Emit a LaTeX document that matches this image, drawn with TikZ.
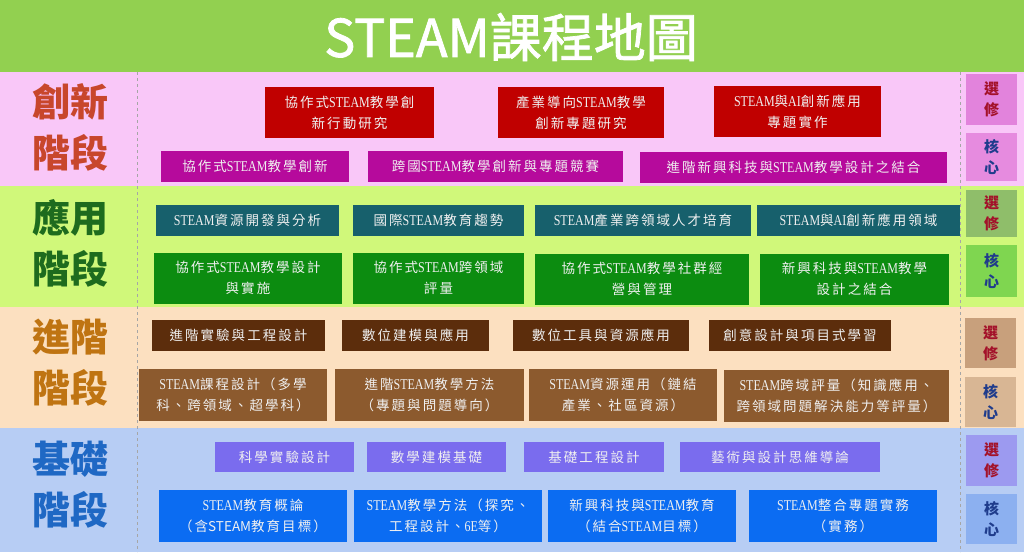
\documentclass[tikz,border=0pt]{standalone}
\usepackage{fontspec}
\setmainfont{Noto Sans CJK TC}
\newfontfamily\boxfont[LetterSpace=15]{Noto Sans CJK TC}
\newfontfamily\headfont{Noto Sans CJK TC}
\newfontfamily\titlefont[FakeBold=1.5]{Noto Sans CJK TC}
\newfontfamily\latinfont[FakeStretch=0.8]{Liberation Serif}
\newcommand\stm{{\latinfont\fontsize{15}{21}\selectfont STEAM}}

\definecolor{titlegreen}{HTML}{92D050}
\definecolor{innbg}{HTML}{F9C7F8}
\definecolor{appbg}{HTML}{D0F87A}
\definecolor{advbg}{HTML}{FCE0C0}
\definecolor{basbg}{HTML}{B7CDF4}
\definecolor{innlabel}{HTML}{C8462C}
\definecolor{applabel}{HTML}{1E6B1E}
\definecolor{advlabel}{HTML}{BF7412}
\definecolor{baslabel}{HTML}{1F68C4}
\definecolor{innred}{HTML}{C00000}
\definecolor{innmag}{HTML}{B60A9C}
\definecolor{appteal}{HTML}{17606C}
\definecolor{appgreen}{HTML}{0C8C10}
\definecolor{advdark}{HTML}{5C2D0C}
\definecolor{advmid}{HTML}{8C5A2E}
\definecolor{basslate}{HTML}{7A6CEE}
\definecolor{basblue}{HTML}{0B6CF2}
\definecolor{innsel}{HTML}{E283DC}
\definecolor{inncore}{HTML}{E68BDF}
\definecolor{appsel}{HTML}{8FBE6A}
\definecolor{appcore}{HTML}{7FD650}
\definecolor{advsel}{HTML}{C8A07C}
\definecolor{advcore}{HTML}{D8B694}
\definecolor{bassel}{HTML}{9C9AF0}
\definecolor{bascore}{HTML}{8CB0F0}
\definecolor{seltext}{HTML}{A3122A}
\definecolor{coretext}{HTML}{1F3C8C}

\tikzset{
  course/.style={rectangle, inner sep=0pt, text=white!94!black, align=center,
    font=\boxfont\fontsize{13.5}{21}\selectfont},
  innA/.style={course, fill=innred},
  innB/.style={course, fill=innmag},
  appA/.style={course, fill=appteal},
  appB/.style={course, fill=appgreen},
  advA/.style={course, fill=advdark},
  advB/.style={course, fill=advmid},
  basA/.style={course, fill=basslate},
  basB/.style={course, fill=basblue},
  stagelabel/.style={align=center, inner sep=0pt,
    font=\headfont\bfseries\fontsize{38}{51}\selectfont},
  tile/.style={rectangle, inner sep=0pt, align=center, minimum width=51,
    font=\headfont\bfseries\fontsize{15}{21}\selectfont},
  seltile/.style={tile, text=seltext},
  coretile/.style={tile, text=coretext},
  sepline/.style={gray!70, dashed, line width=0.8pt}
}

\begin{document}
\begin{tikzpicture}[x=1pt,y=-1pt]
  \useasboundingbox (0,0) rectangle (1024,552);
  % bands
  \fill[titlegreen] (0,0) rectangle (1024,72);
  \fill[innbg] (0,72) rectangle (1024,186);
  \fill[appbg] (0,186) rectangle (1024,307);
  \fill[advbg] (0,307) rectangle (1024,428);
  \fill[basbg] (0,428) rectangle (1024,552);
  \draw[sepline] (137,72) -- (137,552);
  \draw[sepline] (960,72) -- (960,552);

  \node[text=white, font=\titlefont\fontsize{52}{60}\selectfont] (title) at (511,37) {STEAM課程地圖};

  % stage labels
  \node[stagelabel, text=innlabel] (innLabel) at (70,127) {創新\\階段};
  \node[stagelabel, text=applabel] (appLabel) at (70,243.5) {應用\\階段};
  \node[stagelabel, text=advlabel] (advLabel) at (70,362.5) {進階\\階段};
  \node[stagelabel, text=baslabel] (basLabel) at (70,485) {基礎\\階段};

  % innovation stage
  \node[innA, minimum width=169, minimum height=51] (innA1) at (349.5,112.5) {協作式\stm 教學創\\新行動研究};
  \node[innA, minimum width=166, minimum height=51] (innA2) at (581,112.5) {產業導向\stm 教學\\創新專題研究};
  \node[innA, minimum width=167, minimum height=51] (innA3) at (797.5,111.5) {\stm 與{\latinfont\fontsize{15}{21}\selectfont AI}創新應用\\專題實作};
  \node[innB, minimum width=188, minimum height=31] (innB1) at (255,166.5) {協作式\stm 教學創新};
  \node[innB, minimum width=255, minimum height=31] (innB2) at (495.5,166.5) {跨國\stm 教學創新與專題競賽};
  \node[innB, minimum width=307, minimum height=31] (innB3) at (793.5,167) {進階新興科技與\stm 教學設計之結合};

  % application stage
  \node[appA, minimum width=183, minimum height=31] (appA1) at (247.5,220.5) {\stm 資源開發與分析};
  \node[appA, minimum width=171, minimum height=31] (appA2) at (438.5,220.5) {國際\stm 教育趨勢};
  \node[appA, minimum width=216, minimum height=31] (appA3) at (643,220.5) {\stm 產業跨領域人才培育};
  \node[appA, minimum width=203, minimum height=31] (appA4) at (858.5,220.5) {\stm 與{\latinfont\fontsize{15}{21}\selectfont AI}創新應用領域};
  \node[appB, minimum width=188, minimum height=51] (appB1) at (248,278) {協作式\stm 教學設計\\與實施};
  \node[appB, minimum width=171, minimum height=51] (appB2) at (438.5,278) {協作式\stm 跨領域\\評量};
  \node[appB, minimum width=214, minimum height=51] (appB3) at (642,279) {協作式\stm 教學社群經\\營與管理};
  \node[appB, minimum width=189, minimum height=51] (appB4) at (854.5,279) {新興科技與\stm 教學\\設計之結合};

  % advanced stage
  \node[advA, minimum width=173, minimum height=31] (advA1) at (238.5,335.5) {進階實驗與工程設計};
  \node[advA, minimum width=147, minimum height=31] (advA2) at (415.5,335.5) {數位建模與應用};
  \node[advA, minimum width=176, minimum height=31] (advA3) at (601,335.5) {數位工具與資源應用};
  \node[advA, minimum width=182, minimum height=31] (advA4) at (800,335.5) {創意設計與項目式學習};
  \node[advB, minimum width=188, minimum height=52] (advB1) at (233,394.5) {\stm 課程設計（多學\\科、跨領域、超學科）};
  \node[advB, minimum width=189, minimum height=52] (advB2) at (429.5,394.5) {進階\stm 教學方法\\（專題與問題導向）};
  \node[advB, minimum width=188, minimum height=52] (advB3) at (623,394.5) {\stm 資源運用（鏈結\\產業、社區資源）};
  \node[advB, minimum width=225, minimum height=52] (advB4) at (836.5,396) {\stm 跨域評量（知識應用、\\跨領域問題解決能力等評量）};

  % basic stage
  \node[basA, minimum width=139, minimum height=30] (basA1) at (284.5,457) {科學實驗設計};
  \node[basA, minimum width=139, minimum height=30] (basA2) at (436.5,457) {數學建模基礎};
  \node[basA, minimum width=140, minimum height=30] (basA3) at (594,457) {基礎工程設計};
  \node[basA, minimum width=200, minimum height=30] (basA4) at (780,457) {藝術與設計思維導論};
  \node[basB, minimum width=188, minimum height=52] (basB1) at (253,516) {\stm 教育概論\\（含{\headfont STEAM}教育目標）};
  \node[basB, minimum width=188, minimum height=52] (basB2) at (448,516) {\stm 教學方法（探究、\\工程設計、{\latinfont\fontsize{15}{21}\selectfont 6E}等）};
  \node[basB, minimum width=188, minimum height=52] (basB3) at (642,516) {新興科技與\stm 教育\\（結合\stm 目標）};
  \node[basB, minimum width=188, minimum height=52] (basB4) at (843,516) {\stm 整合專題實務\\（實務）};

  % elective / core tiles
  \node[seltile, fill=innsel, minimum height=51] (innSel) at (991.5,99.5) {選\\修};
  \node[coretile, fill=inncore, minimum height=48] (innCore) at (991.5,157) {核\\心};
  \node[seltile, fill=appsel, minimum height=47] (appSel) at (991.5,213.5) {選\\修};
  \node[coretile, fill=appcore, minimum height=52] (appCore) at (991.5,271) {核\\心};
  \node[seltile, fill=advsel, minimum height=50] (advSel) at (990.5,343) {選\\修};
  \node[coretile, fill=advcore, minimum height=50] (advCore) at (990.5,402) {核\\心};
  \node[seltile, fill=bassel, minimum height=51] (basSel) at (991.5,460.5) {選\\修};
  \node[coretile, fill=bascore, minimum height=50] (basCore) at (991.5,519) {核\\心};
\end{tikzpicture}
\end{document}
